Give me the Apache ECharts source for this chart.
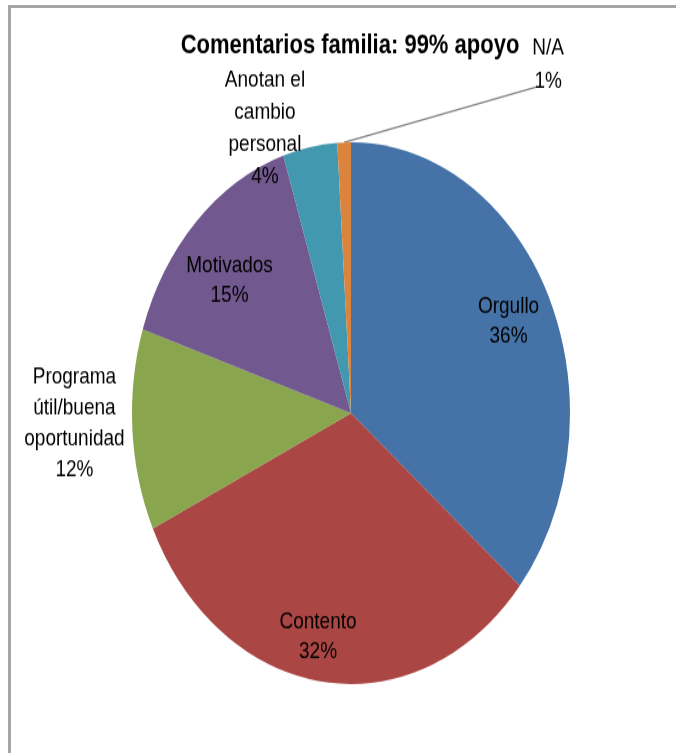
<!DOCTYPE html>
<html>
<head>
<meta charset="utf-8">
<script src="https://cdn.jsdelivr.net/npm/echarts@6/dist/echarts.min.js"></script>
<style>
  html, body { margin: 0; padding: 0; background: #fff; overflow: hidden; }
  #frame { position: absolute; left: 8px; top: 5px; right: 0; bottom: 0;
           border-top: 3px solid #a6a6a6; border-left: 3px solid #a6a6a6; }
  /* the source picture is stretched vertically, so the chart is too */
  #chart { position: absolute; left: 0; top: 0; width: 676px; height: 609px;
           transform: scaleY(1.237); transform-origin: 0 0; }
</style>
</head>
<body>
<div id="frame"></div>
<div id="chart"></div>
<script>
const title = 'Comentarios familia: 99% apoyo';
const categories = ['Orgullo', 'Contento', 'Programa\nútil/buena\noportunidad', 'Motivados', 'Anotan el\ncambio\npersonal', 'N/A'];
const values = [36, 32, 12, 15, 4, 1];
const colors = ['#4572a7', '#aa4643', '#89a54e', '#71588f', '#4198af', '#db843d'];

// which labels sit inside the slices
const insideIdx = [0, 1, 3];
// nudges from where echarts puts each label
const labelShift = [[6, -3], [-12, 15], [-53, -5], [-3, 11], [-40, -15], [209, -63]];
const lineHeights = [24, 24, 25, 24, 26, 27];
// only N/A gets a leader line, ending just left of its "1%"
const leaderIdx = 5;
const leaderEnd = [-11, 18];

const center = [351, 334];
const R = 219;

const chart = echarts.init(document.getElementById('chart'));

function labelText(p) {
  return p.name + '\n' + p.value + '%';
}

const baseLabel = {
  color: '#000',
  fontFamily: 'Liberation Sans, Arial, sans-serif',
  fontSize: 19,
  formatter: labelText
};

const option = {
  animation: false,
  title: {
    text: title,
    left: 345,
    top: 21,
    textAlign: 'center',
    textStyle: {
      color: '#000',
      fontFamily: 'Liberation Sans, Arial, sans-serif',
      fontSize: 22,
      fontWeight: 'bold'
    }
  },
  series: [
    {
      type: 'pie',
      center: center,
      radius: R,
      startAngle: 90,
      clockwise: true,
      avoidLabelOverlap: false,
      itemStyle: { borderWidth: 0 },
      label: Object.assign({ position: 'outside' }, baseLabel),
      labelLine: {
        length: 0,
        length2: 0,
        lineStyle: { color: '#7f7f7f', width: 1.5 }
      },
      data: categories.map((n, i) => ({
        name: n,
        value: values[i],
        itemStyle: { color: colors[i] },
        label: { show: !insideIdx.includes(i), lineHeight: lineHeights[i] },
        labelLine: { show: i === leaderIdx }
      })),
      labelLayout: function (p) {
        const s = labelShift[p.dataIndex];
        const out = { align: 'center', verticalAlign: 'middle', dx: s[0], dy: s[1] };
        if (p.dataIndex === leaderIdx && p.labelLinePoints) {
          // label anchor is the right edge of the default (right-aligned) text
          const r = p.labelRect;
          const cx = r.x + r.width + s[0];
          const cy = r.y + r.height / 2 + s[1];
          const start = p.labelLinePoints[0];
          const end = [cx + leaderEnd[0], cy + leaderEnd[1]];
          out.labelLinePoints = [start, start, end];
        }
        return out;
      }
    },
    {
      // transparent ring that only carries the inner labels
      type: 'pie',
      silent: true,
      center: center,
      radius: [110, R],
      startAngle: 90,
      clockwise: true,
      avoidLabelOverlap: false,
      itemStyle: { color: 'rgba(0,0,0,0)', borderWidth: 0 },
      label: Object.assign({ position: 'inside' }, baseLabel),
      labelLine: { show: false },
      data: categories.map((n, i) => ({
        name: n,
        value: values[i],
        label: { show: insideIdx.includes(i), lineHeight: lineHeights[i] }
      })),
      labelLayout: function (p) {
        return {
          dx: labelShift[p.dataIndex][0],
          dy: labelShift[p.dataIndex][1]
        };
      }
    }
  ]
};

chart.setOption(option);
</script>
</body>
</html>
